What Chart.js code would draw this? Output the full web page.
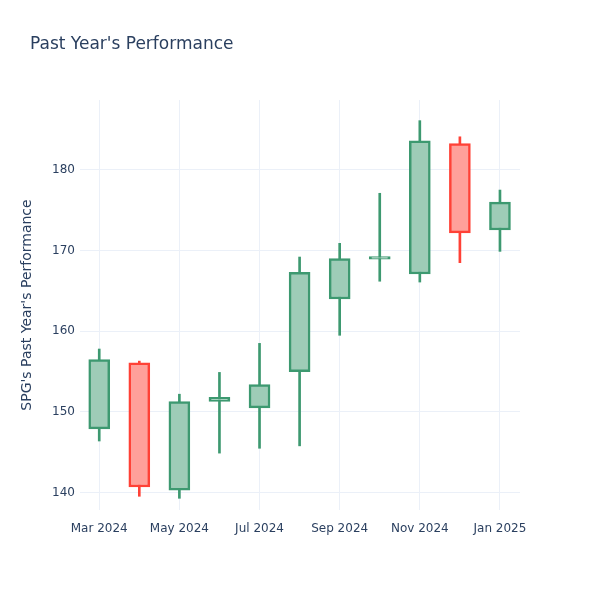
<!DOCTYPE html>
<html>
<head>
<meta charset="utf-8">
<script src="https://cdn.jsdelivr.net/npm/chart.js@4"></script>
<style>
  body { margin: 0; background: #fff; }
  #wrap { width: 600px; height: 600px; }
</style>
</head>
<body>
<div id="wrap"><canvas id="myChart"></canvas></div>
<script>
// monthly candles, Mar 2024 .. Jan 2025
const months = ['Mar 2024','Apr 2024','May 2024','Jun 2024','Jul 2024','Aug 2024','Sep 2024','Oct 2024','Nov 2024','Dec 2024','Jan 2025'];
const openVals  = [147.9, 156.1, 140.3, 151.3, 150.5, 155.0, 164.0, 168.95, 167.1, 183.25, 172.55];
const closeVals = [156.5, 140.7, 151.3, 151.8, 153.4, 167.3, 169.0, 169.25, 183.6, 172.2, 176.0];
const highVals  = [157.8, 156.3, 152.2, 154.9, 158.5, 169.2, 170.9, 177.1, 186.1, 184.1, 177.5];
const lowVals   = [146.4, 139.55, 139.3, 144.9, 145.5, 145.8, 159.5, 166.2, 166.1, 168.5, 169.9];

const upLine = '#3D9970', upFill = 'rgb(158,204,183)';
const downLine = '#FF4136', downFill = 'rgb(255,160,154)';
const txt = '#2a3f5f';
const gridCol = '#EBF0F8';

var bodies = [], wicks = [], fills = [], lines = [];
for (let i = 0; i < months.length; i++) {
  bodies.push({x: i, y: [openVals[i], closeVals[i]]});
  wicks.push({x: i, y: [lowVals[i], highVals[i]]});
  const up = closeVals[i] >= openVals[i];
  fills.push(up ? upFill : downFill);
  lines.push(up ? upLine : downLine);
}

const titlePlugin = {
  id: 'plotTitle',
  afterDraw(chart) {
    const c = chart.ctx;
    c.save();
    c.font = '17px "DejaVu Sans"';
    c.fillStyle = txt;
    c.textBaseline = 'middle';
    c.fillText("Past Year's Performance", 30, 45);
    c.restore();
  }
};

const ctx = document.getElementById('myChart');
let myChart = new Chart(ctx, {
  type: 'bar',
  data: {
    datasets: [{
      label: 'body',
      data: bodies,
      backgroundColor: fills,
      borderColor: lines,
      borderWidth: 2.5,
      borderSkipped: false,
      barThickness: 21,
      grouped: false
    }, {
      label: 'wick',
      data: wicks,
      backgroundColor: lines,
      borderWidth: 0,
      barThickness: 2,
      grouped: false
    }]
  },
  options: {
    responsive: true,
    maintainAspectRatio: false,
    animation: false,
    layout: { padding: { left: 0, right: 80, top: 100, bottom: 60 } },
    plugins: {
      legend: { display: false },
      tooltip: { enabled: false }
    },
    scales: {
      x: {
        type: 'linear',
        offset: false,
        min: -0.48,
        max: 10.5,
        afterFit: s => { s.height = 30; },
        grid: { color: gridCol, drawTicks: false, offset: false },
        border: { display: false },
        ticks: {
          stepSize: 2,
          includeBounds: false,
          autoSkip: false,
          maxRotation: 0,
          padding: 12,
          color: txt,
          font: { family: 'DejaVu Sans', size: 12 },
          callback: v => months[v] || ''
        }
      },
      y: {
        min: 137.85,
        max: 188.66,
        afterFit: s => { s.width = 80; },
        grid: { color: gridCol, drawTicks: false },
        border: { display: false },
        ticks: {
          stepSize: 10,
          includeBounds: false,
          padding: 5,
          color: txt,
          font: { family: 'DejaVu Sans', size: 12 }
        },
        title: {
          display: true,
          text: "SPG's Past Year's Performance",
          color: txt,
          font: { family: 'DejaVu Sans', size: 14 },
          padding: { top: 19, bottom: 0 }
        }
      }
    }
  },
  plugins: [titlePlugin]
});
</script>
</body>
</html>
